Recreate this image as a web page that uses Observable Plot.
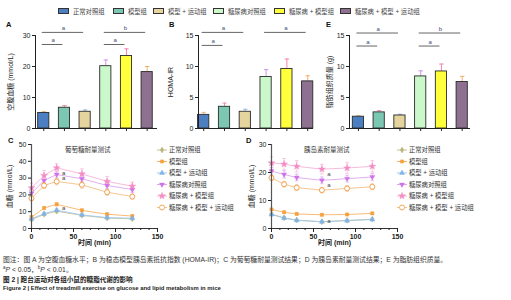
<!DOCTYPE html>
<html><head><meta charset="utf-8">
<script src="https://cdn.jsdelivr.net/npm/d3@7"></script>
<script src="https://cdn.jsdelivr.net/npm/@observablehq/plot@0.6"></script>
<style>
body{margin:0;background:#fff;}
#fig{position:relative;width:511px;height:300px;overflow:hidden;font-family:"Liberation Sans","Noto Sans CJK SC",sans-serif;color:#333;}
.abs{position:absolute;white-space:nowrap;}
.abs svg{overflow:visible;}
.panel{position:absolute;}
.panel svg{overflow:visible;}
.plab{position:absolute;font-weight:bold;font-size:7.5px;color:#111;}
</style></head><body><div id="fig"></div>
<script>
// ---------- data ----------
const groups = ["正常对照组","模型组","模型 + 运动组","糖尿病对照组","糖尿病 + 模型组","糖尿病 + 模型 + 运动组"];
const groupIndex = [0,1,2,3,4,5];

// A: fasting blood glucose (mmol/L)
const glucoseMean = [5.0, 6.7, 5.4, 20.1, 23.4, 18.2];
const glucoseErr  = [0.5, 0.7, 0.6, 2.0, 2.3, 1.8];
// B: HOMA-IR
const homaMean = [2.2, 3.5, 2.7, 8.3, 9.6, 7.6];
const homaErr  = [0.4, 0.6, 0.4, 1.2, 1.6, 0.9];
// E: adipose tissue mass (g)
const fatMean = [1.9, 2.6, 2.1, 8.4, 9.2, 7.5];
const fatErr  = [0.2, 0.3, 0.2, 0.9, 1.2, 0.9];

// significance brackets (group index from/to, level in data units, label)
const sigFromA = [0, 3, 0, 3], sigToA = [2, 5, 1, 4], sigLevelA = [31, 31, 27.1, 27.1], sigLabelA = ["a","b","a","a"];
const sigFromB = [0, 3, 0],    sigToB = [2, 5, 1],    sigLevelB = [15.5, 15.5, 13.4],    sigLabelB = ["a","a","a"];
const sigFromE = [0, 3, 0, 3], sigToE = [2, 5, 1, 4], sigLevelE = [15.4, 15.4, 13.3, 13.3], sigLabelE = ["a","b","a","a"];

const ticksA = [0, 10, 20, 30];
const ticksBE = [0, 5, 10, 15];

// C / D: time course
const timePoints = [0, 15, 30, 60, 90, 120];
const xMajorTicks = [0, 50, 100, 150];

const ogttNormal      = [5.3, 8.4, 10.3, 7.8, 6.2, 5.8];
const ogttModel       = [6.8, 12.2, 14.4, 10.8, 8.5, 7.4];
const ogttModelEx     = [5.8, 8.8, 10.9, 8.1, 6.5, 6.1];
const ogttDiab        = [21.0, 28.6, 32.1, 29.6, 25.6, 23.2];
const ogttDiabModel   = [24.2, 31.5, 36.1, 32.5, 28.0, 25.2];
const ogttDiabModelEx = [18.0, 25.6, 28.0, 26.0, 21.6, 19.0];
const ogttErrNormal      = [0.6, 0.7, 0.8, 0.7, 0.6, 0.6];
const ogttErrModel       = [0.7, 0.8, 0.9, 0.8, 0.7, 0.7];
const ogttErrModelEx     = [0.6, 0.7, 0.8, 0.7, 0.6, 0.6];
const ogttErrDiab        = [2.0, 2.2, 2.0, 2.0, 2.0, 1.8];
const ogttErrDiabModel   = [2.8, 3.0, 2.4, 3.0, 3.0, 2.4];
const ogttErrDiabModelEx = [1.5, 1.8, 2.0, 2.0, 1.8, 1.5];
const ogttTicks = [0, 10, 20, 30, 40, 50];
const ogttAnnT = [30, 30, 30], ogttAnnV = [32.7, 29.8, 11.9], ogttAnnLabel = ["a","a","a"];

const ittNormal      = [5.1, 3.8, 3.0, 2.4, 2.9, 3.3];
const ittModel       = [6.8, 5.8, 5.2, 4.9, 5.0, 5.4];
const ittModelEx     = [5.0, 3.7, 2.9, 2.4, 2.8, 3.2];
const ittDiab        = [20.5, 19.3, 18.2, 17.2, 17.8, 18.4];
const ittDiabModel   = [23.4, 23.0, 22.2, 21.2, 21.6, 22.2];
const ittDiabModelEx = [18.1, 15.8, 14.6, 13.7, 14.3, 14.9];
const ittErrNormal      = [0.4, 0.4, 0.3, 0.3, 0.3, 0.3];
const ittErrModel       = [0.4, 0.4, 0.4, 0.4, 0.4, 0.4];
const ittErrModelEx     = [0.4, 0.4, 0.3, 0.3, 0.3, 0.3];
const ittErrDiab        = [1.3, 1.3, 1.2, 1.2, 1.2, 1.3];
const ittErrDiabModel   = [2.2, 2.0, 2.0, 1.7, 1.9, 2.0];
const ittErrDiabModelEx = [1.0, 1.0, 1.0, 1.0, 1.0, 1.0];
const ittTicks = [0, 10, 20, 30];
const ittAnnT = [60, 60, 60], ittAnnV = [19.3, 15.4, 2.5], ittAnnLabel = ["a","a","a"];

// ---------- styles ----------
const FONT = "Liberation Sans, Noto Sans CJK SC, sans-serif";
const barFill  = ["#4b7fc2","#7cc7b2","#e6d49e","#cbf8cb","#ffff3c","#8e7190"];
const errColor = ["#e9b27a","#ef8a9c","#8fb8e4","#c98ae0","#f27aa6","#efa860"];
const lineColor = ["#c2bf95","#f7b368","#a3c8ee","#dca6ee","#f6b3d8","#f4c084"];
const symFill   = ["#b9b47c","#f7a03c","#7fb3ea","#cf74e8","#f48cc4","#ffffff"];
const symStroke = ["#b9b47c","#f7a03c","#7fb3ea","#cf74e8","#f48cc4","#f2a24f"];
const symName   = ["diamond","square","triangle","triangle","star","circle"];
const symRotate = [0,0,0,180,0,0];
const symR      = [1.8,1.8,1.9,1.9,2.2,2.5];
const d3Sym = {diamond:d3.symbolDiamond, square:d3.symbolSquare, triangle:d3.symbolTriangle, star:d3.symbolStar, circle:d3.symbolCircle};

const capSymbol = {draw(ctx, size){ const r = Math.sqrt(size/Math.PI); ctx.moveTo(-r,0); ctx.lineTo(r,0); }};

const fig = document.getElementById("fig");
function place(node, left, top){
  const d = document.createElement("div");
  d.className = "panel"; d.style.left = left+"px"; d.style.top = top+"px";
  d.appendChild(node); fig.appendChild(d); return d;
}
function label(text, left, top, css){
  const d = document.createElement("div");
  d.className = "abs"; d.style.left = left+"px"; d.style.top = top+"px";
  d.textContent = text; Object.assign(d.style, css||{}); fig.appendChild(d); return d;
}

// ---------- bar panels ----------
function barPanel({means, errs, sigFrom, sigTo, sigLevel, sigLabel, yMax, yTicks, xDomain, ylabel, labelOffset, marginRight}){
  const rows = groupIndex.map(i => ({i, m: means[i], hi: means[i] + errs[i]}));
  const sig = sigFrom.map((f,k) => ({x1: f, x2: sigTo[k], y: sigLevel[k], mid: (f + sigTo[k]) / 2, label: sigLabel[k]}));
  const hw = 0.27;
  return Plot.plot({
    width: 160, height: 120, marginLeft: 35, marginRight, marginTop: 15, marginBottom: 12,
    style: {fontSize: "7px", fontFamily: FONT, background: "transparent", overflow: "visible", color: "#222"},
    x: {domain: xDomain},
    y: {domain: [0, yMax]},
    color: {type: "identity"},
    marks: [
      Plot.ruleX(rows, {x: "i", y1: "m", y2: "hi", stroke: d => errColor[d.i], strokeWidth: 0.9}),
      Plot.dot(rows, {x: "i", y: "hi", symbol: capSymbol, r: 2.2, fill: "none", stroke: d => errColor[d.i], strokeWidth: 0.9}),
      Plot.rect(rows, {x1: d => d.i - hw, x2: d => d.i + hw, y1: 0, y2: "m", fill: d => barFill[d.i], stroke: "#2a2a2a", strokeWidth: 0.9}),
      Plot.link(sig, {x1: "x1", x2: "x2", y1: "y", y2: "y", stroke: "#555", strokeWidth: 0.9, dx: -2}),
      Plot.text(sig, {x: "mid", y: "y", text: "label", dy: -4, dx: -1, fill: "#3b4b7b", fontSize: 6}),
      Plot.ruleY([0], {stroke: "#222", strokeWidth: 1}),
      Plot.ruleX([xDomain[0]], {stroke: "#222", strokeWidth: 1}),
      Plot.axisX({ticks: groupIndex, tickSize: 3, tickFormat: () => "", label: null}),
      Plot.axisY({ticks: yTicks, tickSize: 3, tickPadding: 2, label: ylabel, labelAnchor: "center", labelOffset, labelArrow: "none"})
    ]
  });
}

// ---------- line panels ----------
function linePanel({series, errors, yMax, yTicks, annT, annV, annLabel, labelOffset}){
  const rows = [];
  series.forEach((s, g) => s.forEach((v, k) => rows.push({g, t: timePoints[k], v, lo: v - errors[g][k], hi: v + errors[g][k]})));
  const ann = annT.map((t, k) => ({t, v: annV[k], label: annLabel[k]}));
  const marks = [
    Plot.ruleX(rows, {x: "t", y1: "lo", y2: "hi", stroke: d => lineColor[d.g], strokeWidth: 0.7}),
    Plot.dot(rows, {x: "t", y: "hi", symbol: capSymbol, r: 1.8, fill: "none", stroke: d => lineColor[d.g], strokeWidth: 0.7}),
    Plot.dot(rows, {x: "t", y: "lo", symbol: capSymbol, r: 1.8, fill: "none", stroke: d => lineColor[d.g], strokeWidth: 0.7}),
    Plot.line(rows, {x: "t", y: "v", z: "g", stroke: d => lineColor[d.g], strokeWidth: 0.9})
  ];
  groupIndex.forEach(g => {
    marks.push(Plot.dot(rows.filter(d => d.g === g), {x: "t", y: "v", symbol: symName[g], rotate: symRotate[g], r: symR[g], fill: symFill[g], stroke: symStroke[g], strokeWidth: g === 5 ? 1 : 0.4}));
  });
  marks.push(
    Plot.text(ann, {x: "t", y: "v", text: "label", dx: 7, fill: "#444", fontSize: 6}),
    Plot.ruleY([0], {stroke: "#333", strokeWidth: 1}),
    Plot.ruleX([0], {stroke: "#555", strokeWidth: 1.2}),
    Plot.axisX({ticks: d3.range(0, 151, 10), tickSize: 2, tickFormat: () => "", label: null}),
    Plot.axisX({ticks: xMajorTicks, tickSize: 4, tickPadding: 2, label: "时间 (min)", labelAnchor: "center", labelOffset: 16, labelArrow: "none", fontWeight: "bold"}),
    Plot.axisY({ticks: yTicks, tickSize: 3, tickPadding: 2, label: "血糖 (mmol/L)", labelAnchor: "center", labelOffset, labelArrow: "none"})
  );
  return Plot.plot({
    width: 165, height: 115, marginLeft: 31, marginRight: 8, marginTop: 6, marginBottom: 25,
    style: {fontSize: "7px", fontFamily: FONT, background: "transparent", overflow: "visible", color: "#222"},
    x: {domain: [0, 150]},
    y: {domain: [0, yMax]},
    color: {type: "identity"},
    marks
  });
}

function lineLegend(left, top){
  const svg = d3.create("svg").attr("width", 90).attr("height", 70)
    .style("font-family", FONT).style("font-size", "6.3px");
  groupIndex.forEach(g => {
    const y = 5 + g * 11.5;
    svg.append("line").attr("x1", 0).attr("x2", 10).attr("y1", y).attr("y2", y).attr("stroke", lineColor[g]).attr("stroke-width", 1);
    svg.append("path").attr("d", d3.symbol(d3Sym[symName[g]], Math.PI * symR[g] * symR[g])())
      .attr("transform", `translate(5,${y}) rotate(${symRotate[g]})`)
      .attr("fill", symFill[g]).attr("stroke", symStroke[g]).attr("stroke-width", g === 5 ? 0.9 : 0.4);
    svg.append("text").attr("x", 12).attr("y", y).attr("dy", "0.35em").attr("fill", "#333").text(groups[g]);
  });
  place(svg.node(), left, top);
}

// ---------- top legend ----------
const legendLeft = [58, 113, 153, 213, 274, 340];
groupIndex.forEach(g => {
  const d = document.createElement("div");
  d.className = "abs";
  d.style.left = legendLeft[g] + "px"; d.style.top = "8px"; d.style.fontSize = "6.3px"; d.style.lineHeight = "8px"; d.style.color = "#444";
  d.innerHTML = `<span style="display:inline-block;width:9px;height:4px;border:1px solid #333;background:${barFill[g]};vertical-align:middle;margin-right:4px;position:relative;top:-1px"></span>${groups[g]}`;
  fig.appendChild(d);
});

// ---------- panels ----------
place(barPanel({means: glucoseMean, errs: glucoseErr, sigFrom: sigFromA, sigTo: sigToA, sigLevel: sigLevelA, sigLabel: sigLabelA,
  yMax: 30, yTicks: ticksA, xDomain: [-0.4, 5.5], ylabel: "空腹血糖 (mmol/L)", labelOffset: 27, marginRight: 3}), 0, 20);
place(barPanel({means: homaMean, errs: homaErr, sigFrom: sigFromB, sigTo: sigToB, sigLevel: sigLevelB, sigLabel: sigLabelB,
  yMax: 15, yTicks: ticksBE, xDomain: [-0.25, 5.28], ylabel: "HOMA-IR", labelOffset: 30, marginRight: 10}), 163, 20);
place(barPanel({means: fatMean, errs: fatErr, sigFrom: sigFromE, sigTo: sigToE, sigLevel: sigLevelE, sigLabel: sigLabelE,
  yMax: 15, yTicks: ticksBE, xDomain: [-0.43, 5.4], ylabel: "脂肪组织质量 (g)", labelOffset: 22, marginRight: 4}), 314, 20);

place(linePanel({series: [ogttNormal, ogttModel, ogttModelEx, ogttDiab, ogttDiabModel, ogttDiabModelEx],
  errors: [ogttErrNormal, ogttErrModel, ogttErrModelEx, ogttErrDiab, ogttErrDiabModel, ogttErrDiabModelEx],
  yMax: 50, yTicks: ogttTicks, annT: ogttAnnT, annV: ogttAnnV, annLabel: ogttAnnLabel, labelOffset: 24}), 0, 138);
place(linePanel({series: [ittNormal, ittModel, ittModelEx, ittDiab, ittDiabModel, ittDiabModelEx],
  errors: [ittErrNormal, ittErrModel, ittErrModelEx, ittErrDiab, ittErrDiabModel, ittErrDiabModelEx],
  yMax: 30, yTicks: ittTicks, annT: ittAnnT, annV: ittAnnV, annLabel: ittAnnLabel, labelOffset: 22}), 240, 138);

lineLegend(157, 145);
lineLegend(397, 145);

// titles and panel letters
label("葡萄糖耐量测试", 65, 144, {fontSize: "6.5px", color: "#333"});
label("胰岛素耐量测试", 304, 144, {fontSize: "6.5px", color: "#333"});
[["A",6,20],["B",169,20],["E",326,20],["C",8,136],["D",246,136]].forEach(([t,x,y]) => {
  const d = label(t, x, y); d.className = "plab";
});

// captions
label("图注：图 A 为空腹血糖水平；B 为稳态模型胰岛素抵抗指数 (HOMA-IR)；C 为葡萄糖耐量测试结果；D 为胰岛素耐量测试结果；E 为脂肪组织质量。", 3, 254, {fontSize: "6.8px", color: "#333"});
label("", 3, 263.5, {fontSize: "6.8px", color: "#333"}).innerHTML = "<sup style='font-size:4.5px'>a</sup><i>P</i> &lt; 0.05，<sup style='font-size:4.5px'>b</sup><i>P</i> &lt; 0.01。";
label("图 2  |  跑台运动对各组小鼠的糖脂代谢的影响", 3, 274, {fontSize: "6.6px", color: "#222", fontWeight: "bold"});
label("Figure 2  |  Effect of treadmill exercise on glucose and lipid metabolism in mice", 3, 285, {fontSize: "5.9px", color: "#222", fontWeight: "bold"});
</script></body></html>
